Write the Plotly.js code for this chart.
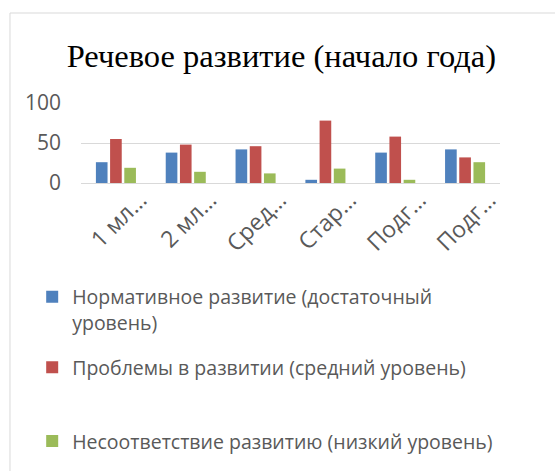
<!DOCTYPE html>
<html><head><meta charset="utf-8">
<script src="https://cdn.plot.ly/plotly-3.0.1.min.js"></script>
<style>html,body{margin:0;padding:0;background:#fff;}#chart{width:555px;height:471px;}</style>
</head><body><div id="chart"></div>
<script>
const categories = ["1 мл…", "2 мл…", "Сред…", "Стар…", "Подг…", "Подг…"];
const seriesNames = [
  "Нормативное развитие (достаточный<br>уровень)",
  "Проблемы в развитии (средний уровень)",
  "Несоответствие развитию (низкий уровень)"
];
const normative = [26, 38, 42, 4, 38, 42];
const problems = [55, 48, 46, 78, 58, 32];
const mismatch = [19, 14, 12, 18, 4, 26];
const colors = ["#4F81BD", "#C0504D", "#9BBB59"];
const yTicks = [0, 50, 100];

const xIdx = categories.map((c, i) => i);
const values = [normative, problems, mismatch];
const legendIds = ["legend", "legend2", "legend3"];

const traces = values.map((v, k) => ({
  type: "bar",
  x: xIdx,
  y: v,
  name: seriesNames[k],
  marker: {color: colors[k]},
  legend: legendIds[k],
  hoverinfo: "none"
}));

const legendFont = {family: "Open Sans, sans-serif", size: 19.5, color: "#595959"};
function leg(y) {
  return {x: 0.058, xref: "container", y: y, yref: "container", xanchor: "left", yanchor: "top", font: legendFont,
    bgcolor: "rgba(0,0,0,0)", valign: "top", itemclick: false, itemdoubleclick: false};
}

const layout = {
  width: 555, height: 471,
  margin: {l: 81, r: 55, t: 103, b: 288, autoexpand: false},
  paper_bgcolor: "#fff", plot_bgcolor: "#fff",
  title: {text: "Речевое развитие (начало года)", font: {family: "Liberation Serif, Times New Roman, serif", size: 32.5, color: "#000"},
    x: 0.507, xanchor: "center", xref: "container", y: 0.881, yanchor: "middle", yref: "container"},
  barmode: "group", bargap: 0.39, bargroupgap: 0.18,
  xaxis: {tickvals: xIdx, ticktext: categories, tickangle: -45, range: [-0.5, 5.5],
    showgrid: false, zeroline: false, showline: false, ticks: "", automargin: false,
    ticklabelshift: 24, ticklabelstandoff: -2,
    tickfont: {family: "Open Sans, sans-serif", size: 23, color: "#595959"}},
  yaxis: {range: [0, 100], tickvals: yTicks, showgrid: true, gridcolor: "#d9d9d9", gridwidth: 1,
    zeroline: true, zerolinecolor: "#d9d9d9", zerolinewidth: 1, showline: false, ticks: "", automargin: false,
    ticklabelstandoff: 19,
    tickfont: {family: "Open Sans, sans-serif", size: 21, color: "#595959"}},
  showlegend: true,
  legend: leg(0.4105),
  legend2: leg(0.2608),
  legend3: leg(0.1045),
  shapes: [{type: "rect", xref: "paper", yref: "paper", x0: -0.1695, x1: 3, y0: 2.125, y1: -10,
    line: {color: "#d9d9d9", width: 1}, fillcolor: "rgba(0,0,0,0)", layer: "below"}]
};

Plotly.newPlot("chart", traces, layout, {displayModeBar: false, staticPlot: true});
</script></body></html>
